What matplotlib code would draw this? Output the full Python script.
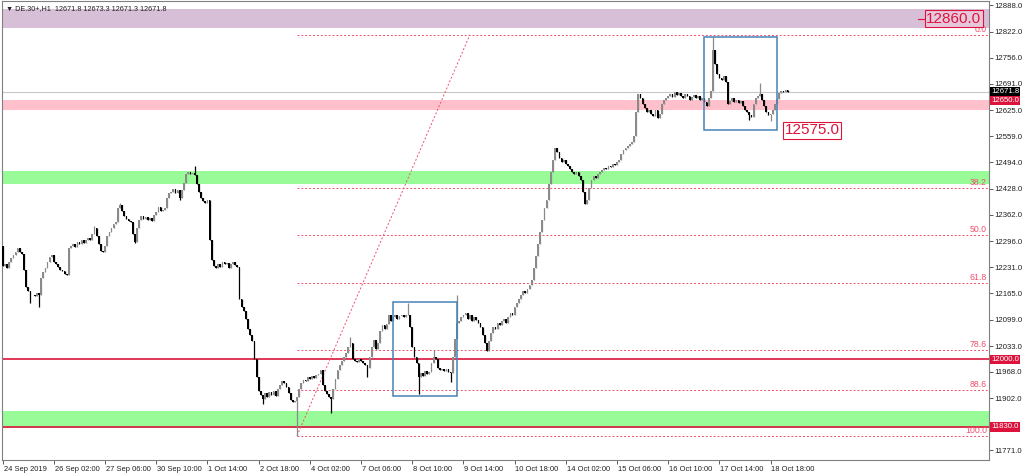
import numpy as np
import matplotlib.pyplot as plt
from matplotlib.patches import Rectangle
import matplotlib.transforms as mtransforms

plt.rcParams['font.family'] = ['Liberation Sans', 'DejaVu Sans']

# ---- data (DE.30+, H1) ----
first_open = 12285
closes = [
    12235, 12240, 12228, 12245, 12255, 12262, 12270, 12278, 12268, 12265,
    12225, 12180, 12170, 12160, 12162, 12158, 12165, 12160, 12205, 12218,
    12230, 12245, 12257, 12262, 12245, 12240, 12232, 12225, 12222, 12215,
    12212, 12280, 12285, 12290, 12282, 12295, 12288, 12300, 12292, 12298,
    12305, 12300, 12315, 12330, 12310, 12290, 12272, 12270, 12285, 12310,
    12320, 12330, 12340, 12344, 12380, 12388, 12372, 12360, 12352, 12348,
    12345, 12315, 12295, 12330, 12350, 12360, 12352, 12358, 12350, 12355,
    12348, 12362, 12370, 12382, 12372, 12374, 12380, 12405, 12418, 12420,
    12426, 12418, 12425, 12405, 12425, 12442, 12465, 12470, 12466, 12468,
    12463, 12440, 12420, 12405, 12398, 12392, 12400, 12300, 12250, 12235,
    12228, 12240, 12232, 12245, 12238, 12242, 12230, 12240, 12245, 12236,
    12232, 12150, 12130, 12120, 12100, 12075, 12060, 12045, 12000, 11955,
    11920, 11910, 11900, 11915, 11905, 11918, 11910, 11920, 11908, 11925,
    11935, 11945, 11940, 11930, 11915, 11898, 11892, 11895, 11905, 11925,
    11940, 11948, 11945, 11955, 11950, 11958, 11952, 11960, 11962, 11972,
    11935, 11920, 11912, 11905, 11900, 11925, 11950, 11972, 11985, 11995,
    12005, 12015, 12030, 12040, 12000, 11995, 11992, 12000, 11995, 11990,
    11985, 11978, 12005, 12030, 12048, 12025, 12040, 12070, 12085, 12075,
    12088, 12110, 12095, 12105, 12110, 12102, 12108, 12112, 12106, 12110,
    12110, 12080, 12030, 12005, 11990, 11955, 11965, 11958, 11970, 11962,
    11968, 11990, 12005, 12000, 11978, 11972, 11975, 11970, 11975, 11968,
    11965, 12005, 12050, 12090, 12095, 12105, 12112, 12115, 12100, 12110,
    12095, 12105, 12098, 12092, 12080, 12060, 12040, 12020, 12045, 12065,
    12080, 12075, 12090, 12085, 12095, 12100, 12092, 12105, 12115, 12110,
    12130, 12140, 12150, 12160, 12170, 12165, 12175, 12185, 12200, 12230,
    12260, 12290, 12320, 12350, 12380, 12400, 12440, 12470, 12500, 12530,
    12520, 12505, 12495, 12500, 12490, 12485, 12478, 12470, 12465, 12470,
    12460, 12450, 12420, 12390, 12400, 12430, 12450, 12460, 12455, 12465,
    12470, 12475, 12480, 12478, 12485, 12482, 12490, 12488, 12495, 12500,
    12515, 12525, 12530, 12535, 12540, 12545, 12560, 12620, 12665, 12655,
    12640, 12630, 12620, 12625, 12615, 12610, 12625, 12605, 12615, 12640,
    12650, 12655, 12660, 12665, 12658, 12670, 12662, 12668, 12660, 12655,
    12665, 12660, 12650, 12658, 12662, 12655, 12660, 12650, 12655, 12645,
    12635, 12655, 12672, 12775, 12740, 12715, 12705, 12700, 12712, 12695,
    12640, 12648, 12655, 12645, 12650, 12642, 12648, 12635, 12625, 12620,
    12612, 12608, 12640, 12655, 12660, 12665, 12650, 12635, 12620, 12612,
    12615, 12625, 12640, 12652, 12668, 12673, 12670, 12675, 12671.8,
]
high_spikes = {43: 12335, 55: 12392, 90: 12485, 163: 12055, 190: 12140,
               202: 12023, 213: 12160, 333: 12809, 355: 12692}
low_spikes = {13: 12141, 17: 12131, 62: 12291, 83: 12399, 122: 11887,
              138: 11808, 154: 11865, 171: 11955, 195: 11912, 210: 11942,
              350: 12600, 360: 12597}

time_labels = ['24 Sep 2019', '26 Sep 02:00', '27 Sep 06:00', '30 Sep 10:00',
               '1 Oct 14:00', '2 Oct 18:00', '4 Oct 02:00', '7 Oct 06:00',
               '8 Oct 10:00', '9 Oct 14:00', '10 Oct 18:00', '14 Oct 02:00',
               '15 Oct 06:00', '16 Oct 10:00', '17 Oct 14:00', '18 Oct 18:00']
bars_per_label = 24
price_ticks = [12888.0, 12822.0, 12756.0, 12691.0, 12625.0, 12559.0, 12494.0,
               12428.0, 12362.0, 12296.0, 12231.0, 12165.0, 12099.0, 12033.0,
               11968.0, 11902.0, 11771.0]

zones = [(12830, 12878, '#d8bfd8'), (12626, 12650, '#ffc0cb'),
         (12439, 12473, '#98fb98'), (11827, 11869, '#98fb98')]
red_levels = [12000.0, 11830.0]
bid = 12671.8
fib_low, fib_high = 11808, 12814
fib_low_bar, fib_high_bar = 138, 219
fib_levels = [0.0, 38.2, 50.0, 61.8, 78.6, 88.6, 100.0]
boxes = [(183, 213, 11907, 12143), (329, 363, 12575, 12809)]

# ---- build ohlc ----
c = np.array(closes, dtype=float)
o = np.concatenate([[first_open], c[:-1]])
h = np.maximum(o, c)
l = np.minimum(o, c)
for k, v in high_spikes.items():
    h[k] = max(h[k], v)
for k, v in low_spikes.items():
    l[k] = min(l[k], v)
x = np.arange(len(c))

W, H = 1024, 474
fig = plt.figure(figsize=(W / 100, H / 100), dpi=100)
ax = fig.add_axes([2 / W, (H - 460) / H, 987 / W, 459 / H])
ax.set_xlim(-0.33, 462.4)
ax.set_ylim(11747, 12899)

for lo, hi, col in zones:
    ax.axhspan(lo, hi, color=col, lw=0, zorder=0)

ax.axhline(bid, color='#c8c8c8', lw=0.8, zorder=1)
for lv in red_levels:
    ax.axhline(lv, color='#dc143c', lw=1.2, zorder=1)

# fibonacci
fc = '#f0506e'
for lv in fib_levels:
    p = fib_high - (fib_high - fib_low) * lv / 100
    ax.plot([fib_low_bar, 462.4], [p, p], color=fc, lw=0.7, ls=(0, (2, 2)), zorder=1)
    ax.text(461.5, p + 2, f'{lv:.1f}', color=fc, fontsize=6.3, ha='right', va='bottom', zorder=5)
ax.plot([fib_low_bar, fib_high_bar], [fib_low, fib_high], color=fc, lw=0.7, ls=(0, (2, 2)), zorder=1)

# candles
up = c >= o
cols = np.where(up, '#8a8a8a', '#000000')
ax.vlines(x, l, h, colors=cols, lw=0.9, zorder=3)
ax.bar(x, np.maximum(np.abs(c - o), 2), bottom=np.minimum(o, c), width=0.8,
       color=cols, lw=0, zorder=3)

for b0, b1, p0, p1 in boxes:
    ax.add_patch(Rectangle((b0, p0), b1 - b0, p1 - p0, fill=False,
                           ec='#4682b4', lw=1.1, zorder=4))

# annotated prices
ax.text(433, 12854, '12860.0', fontsize=11, color='#dc143c', ha='left', va='center', zorder=6,
        bbox=dict(boxstyle='square,pad=0.1', fc='#e6c8dc', ec='#dc143c', lw=0.8))
ax.plot([429, 432], [12854, 12854], color='#dc143c', lw=0.8, zorder=6)
ax.text(366.5, 12575, '12575.0', fontsize=11, color='#dc143c', ha='left', va='center', zorder=6,
        bbox=dict(boxstyle='square,pad=0.1', fc='white', ec='#dc143c', lw=0.8))

# right axis
ax.yaxis.tick_right()
ax.set_yticks(price_ticks)
ax.set_yticklabels([f'{t:.1f}' for t in price_ticks], fontsize=5.6, color='#202020')
ax.tick_params(axis='y', length=3, width=0.6, pad=1, color='#404040')
trans = mtransforms.blended_transform_factory(ax.transAxes, ax.transData)
for val, fcol in [(bid, 'black'), (12650.0, '#dc143c'), (12000.0, '#dc143c'), (11830.0, '#dc143c')]:
    ax.text(1.002, val, f'{val:.1f}', transform=trans, fontsize=5.6, color='white',
            ha='left', va='center', zorder=7, clip_on=False,
            bbox=dict(boxstyle='square,pad=0.15', fc=fcol, ec='none'))

# time axis
tick_bars = [i * bars_per_label for i in range(len(time_labels))]
ax.set_xticks(tick_bars)
ax.set_xticklabels([])
ax.tick_params(axis='x', length=3, width=0.6, color='#404040')
tx = mtransforms.blended_transform_factory(ax.transData, ax.transAxes)
for b, lab in zip(tick_bars, time_labels):
    ax.text(b + 0.4, -0.013, lab, transform=tx, fontsize=5.4, color='#202020',
            ha='left', va='top', clip_on=False)

for s in ax.spines.values():
    s.set_color('#808080')
    s.set_linewidth(0.8)

ax.text(0.004, 0.992, '\u25bc DE.30+,H1  12671.8 12673.3 12671.3 12671.8', transform=ax.transAxes,
        fontsize=5.2, color='#202020', ha='left', va='top', zorder=8,
        family=['Liberation Sans', 'DejaVu Sans'])

fig.savefig('out.png', dpi=100)
